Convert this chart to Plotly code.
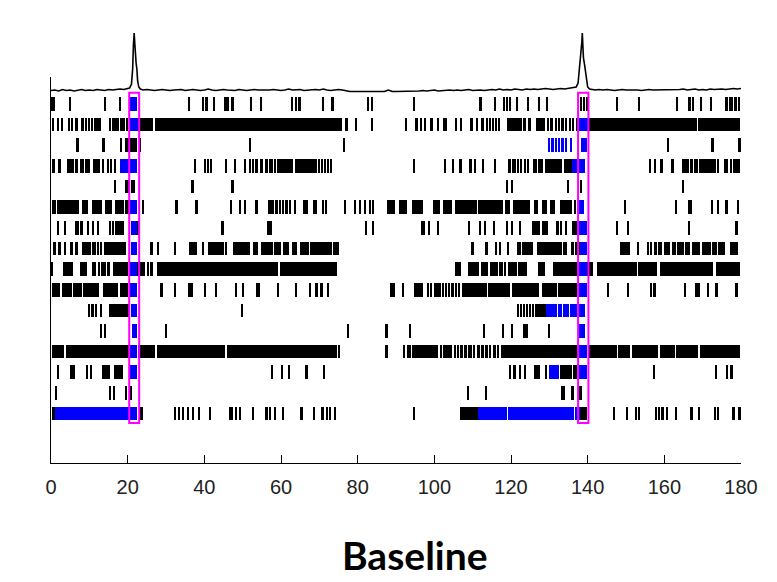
import plotly.graph_objects as go

# ---------------- data ----------------
# time axis (s)
x_ticks = [0, 20, 40, 60, 80, 100, 120, 140, 160, 180]

# population trace (arbitrary units) -- time points and values
trace_t = (list(range(0, 21)) +
           [20.5, 21.0, 21.3, 21.5, 21.7, 21.85, 22.0, 22.2, 22.4, 22.6, 22.9, 23.3] +
           list(range(24, 77)) + list(range(77, 96)) + list(range(96, 137)) +
           [137.0, 137.5, 137.9, 138.2, 138.5, 138.6, 138.75, 138.9, 139.2, 139.6, 140.0, 140.5] +
           list(range(141, 181)))
trace_v = ([2.5, 3, 2, 3.5, 2.5, 3, 2, 3, 3.5, 2.5, 3, 2.5, 3.5, 3, 2.5, 3.5, 3, 3.5, 4, 3.5, 4.5] +
           [5, 9, 24, 48, 60, 50, 38, 30, 24, 12, 6, 4] +
           [3, 3.5, 3, 2.5, 3, 3.5, 3, 2.5, 3, 3, 3.5, 2.5, 3, 3.5, 3, 2.5, 3, 4, 3, 2.5, 3, 3.5, 3,
            3, 2.5, 3.5, 3, 2.5, 3, 3.5, 3, 3, 2.5, 3, 3.5, 3, 2.5, 3, 4, 3, 3, 3.5, 2.5, 3, 3, 3.5,
            3, 4, 3, 2.5, 3, 3.5, 3] +
           [2, 1.5, 1.5, 1.5, 1.5, 1.5, 1.5, 1.5, 1.5, 1.5, 1.5, 3, 1.5, 1.5, 1.5, 1.5, 1.5, 1.5, 1.5] +
           [2, 2.5, 2, 2.5, 3, 2, 2.5, 2.5, 3, 2.5, 3, 2.5, 3, 3.5, 2.5, 3, 3, 2.5, 3, 3.5, 3, 4, 3,
            3.5, 3, 4, 3.5, 3, 4, 3.5, 4, 3.5, 4, 4.5, 4, 3.5, 4, 4.5, 4, 4.5, 5] +
           [6, 10, 25, 40, 52, 60, 48, 35, 28, 14, 6, 4] +
           [3.5, 3, 3.5, 3, 3.5, 3, 2.5, 3, 3.5, 3, 3, 3.5, 3, 2.5, 3, 3.5, 3, 3, 3.5, 3, 3.5, 3, 3,
            3.5, 4, 3, 3.5, 4, 3, 3.5, 3, 4, 3.5, 4, 4, 3.5, 4, 4.5, 4, 4.5])

# stimulation windows (s)
window_start = [20.4, 137.5]
window_end = [23.0, 140.2]

# spike rasters: a number = single spike (s), [a, b] = burst of dense spikes from a to b (s)
unit01 = [[0, 1], 5.1, 14.1, 18.0, 36.0, 39.7, 40.6, 42.5, 45.6, 46.2, 47.4, 52.2, 54.9, 62.9, 63.9,
          64.9, [70.7, 71.3], 73.5, 82.8, 83.9, 94.7, 112.1, 115.8, 118.2, 119.0, 119.9, 121.7, 124.5,
          127.3, 129.5, 138.3, 139.1, 139.8, 147.8, 153.4, 163.3, 166.6, 167.5, 169.7, 172.3, 176.3,
          177.1, 177.8, 178.6, 179.6]
unit01_blue = [[20.7, 22.4]]
unit02 = [0.6, 1.9, 3.0, 4.8, 5.6, 6.7, 8.3, 9.1, 10.0, 10.8, 11.5, 12.2, 12.9, 15.4, 16.2, 16.9, 17.6,
          18.3, 19.0, 19.9, [22.6, 26.7], [27.0, 75.8], [76.6, 77.4], 79.7, 83.9, 92.6, 95.4, 96.5, 97.6,
          99.3, 101.0, [102.3, 103.2], 105.8, 107.1, [109.3, 110.2], 111.2, 112.6, 113.8, 114.5, 115.4,
          116.2, 116.9, [118.9, 122.8], 123.6, 124.9, [126.4, 128.9], 129.7, 130.6, 131.8, 132.6, 133.5,
          134.5, 135.4, 136.3, 137.2, [140.2, 168.4], [168.8, 179.8]]
unit02_blue = [[20.3, 22.6], [137.6, 140.2]]
unit03 = [7.0, [13.5, 14.0], 18.4, [19.3, 22.4], 23.2, 51.9, 76.4, 161.1, 172.6, 179.7]
unit03_blue = [130.0, 130.9, 131.8, 132.6, 133.5, 134.4, 135.8, [138.2, 139.8]]
unit04 = [[0.3, 1.0], 2.3, 4.5, 5.1, 5.7, 6.7, 8.0, 8.4, 9.3, 10.0, [11.0, 12.8], 13.6, 15.0, 15.8, 16.7,
          37.6, 40.2, 41.0, 41.9, 45.8, 48.0, 50.6, 51.9, 52.8, 53.7, 55.0, 56.3, 57.1, 57.8, 58.5, 59.2,
          59.8, 60.4, 61.0, 61.6, 62.2, 62.8, [63.7, 69.3], 70.0, 70.8, 71.6, 72.4, 73.2,
          94.7, 102.8, 105.0, 106.9, 109.5, 110.6, 112.8, 115.8, [119.3, 120.0], 120.6, 121.2, 121.9,
          122.6, 123.7, 124.5, [125.8, 126.7], 127.3, 128.0, [128.9, 133.2], [133.7, 135.8],
          156.3, 157.6, 159.3, [161.7, 162.6], 165.0, 165.6, 166.2, [166.8, 167.4], 168.0, 168.6, 169.3,
          170.0, 170.6, 171.3, 172.0, 172.6, 173.2, 174.1, 175.8, 176.5, [177.0, 177.6], 178.2, 178.9,
          179.6]
unit04_blue = [[18.0, 22.4], [135.8, 139.3]]
unit05 = [16.7, 19.6, 20.2, [20.8, 21.9], 37.0, 47.4, 119.0, 120.4, 135.0, 138.4, 165.0]
unit05_blue = []
unit06 = [[0.2, 1.3], [1.5, 7.4], [8.0, 9.7], [10.6, 13.2], [14.1, 15.8], 17.1, 17.6, 18.2, 18.9,
          [19.3, 20.6], 24.1, 32.8, 38.0, 47.1, 49.3, 50.6, 53.7, [56.7, 58.1], 58.9, 59.8, 60.6, 61.5,
          62.4, 63.7, [65.8, 67.1], [68.4, 69.3], 71.0, 71.9, 76.7, 79.3, 80.6, 81.9, 83.2, 84.1,
          [87.6, 89.7], [90.9, 92.8], [94.1, 97.1], [99.6, 101.5], [102.3, 104.5], [105.4, 111.1],
          [111.5, 118.0], [118.4, 119.7], [120.6, 125.0], [126.0, 127.1], [128.0, 129.3], [130.2, 131.5],
          [132.8, 135.8], 136.7, 149.8, 163.2, [166.3, 167.1], 172.4, 174.1, 176.3, 179.3]
unit06_blue = [[20.6, 22.4], [137.2, 139.1]]
unit07 = [1.9, 3.7, 6.5, 7.1, 8.0, 9.7, 11.0, 12.3, 15.4, 16.3, 17.0, 17.6, 18.2, 18.9, 22.9, 44.8,
          [56.3, 57.6], 82.2, 84.1, 96.8, 97.3, 98.7, 101.0, 109.1, 111.9, 113.2, 115.6, 119.0, 120.4,
          122.4, [125.4, 127.6], [128.0, 129.7], 132.2, 133.2, 134.5, [135.8, 137.2], 147.8, 150.6, 166.5,
          178.9]
unit07_blue = [[20.9, 22.4], [137.2, 139.8]]
unit08 = [1.0, 2.3, 3.7, 5.4, 6.7, 8.4, 9.0, 9.6, 10.2, 11.0, 11.6, 12.3, 13.2, 14.1, 14.7, 15.3, 15.9,
          16.5, 17.1, 17.7, 18.3, 18.9, 19.4, 26.3, 28.0, 32.4, [36.1, 38.0], 39.7, [41.0, 45.0], 45.8,
          [47.6, 51.9], [52.8, 54.1], [54.7, 58.0], 58.6, 59.2, 59.8, [60.4, 61.5], 61.9, [62.8, 64.1],
          65.4, 66.0, 66.6, 67.2, 67.8, 68.4, 69.0, 69.6, 70.2, 70.8, 71.4, 72.0, 72.6, 73.2, 73.8, 74.4,
          75.0, 110.0, 113.7, 116.1, 117.1, 119.3, 121.9, 122.5, 123.1, 123.7, 124.3, 124.9, 125.6,
          127.1, 127.7, 128.3, 128.9, 129.5, 130.1, 130.8, 131.4, 132.0, 132.6, 133.2, 133.8, 134.4,
          136.1, [136.7, 138.0], [148.4, 151.0], 153.2, [155.4, 156.0], 156.6, [157.2, 158.0], 158.6,
          159.2, [159.8, 161.5], [161.9, 163.0], 163.6, 164.2, 164.8, [165.4, 166.7], [167.1, 169.3],
          170.2, 170.8, 171.4, 172.0, [172.5, 173.7], [174.1, 175.8], [177.1, 179.3]]
unit08_blue = [[20.8, 22.4], [138.0, 139.8]]
unit09 = [[0.2, 0.5], [3.2, 5.8], [7.6, 9.3], 11.0, 11.6, [12.2, 12.8], 13.5, 14.1, [14.7, 15.4],
          [16.1, 20.2], [22.5, 24.5], 25.4, 26.3, [27.6, 59.3], [59.7, 74.5], [105.4, 106.9],
          [108.9, 111.7], 112.4, 113.0, 113.7, [114.5, 116.7], 117.1, 117.7, 118.4, [119.3, 121.5],
          [121.9, 124.1], [127.1, 128.9], [131.0, 137.2], [139.8, 141.5], [142.4, 152.8], [153.2, 158.0],
          [158.9, 172.8], [173.5, 179.7]]
unit09_blue = [[20.6, 22.4], [137.2, 139.8]]
unit10 = [[0.2, 2.3], [2.8, 5.4], [5.8, 8.0], [8.4, 10.2], 10.6, 11.2, 11.8, 12.4, [13.5, 17.6],
          [18.0, 20.2], 28.9, 32.4, [35.8, 37.1], 40.2, 43.2, 48.4, 50.2, [53.5, 54.5], 59.3, 63.9, 67.6,
          69.3, 70.6, 72.4, [88.4, 89.7], 91.9, 95.0, 95.6, 96.2, 96.8, 98.4, 99.2, 100.2, 100.8, 101.4,
          [101.9, 102.6], 103.2, 103.8, [104.4, 105.2], 105.8, 106.4, [107.1, 113.7], [114.1, 119.7],
          [120.2, 124.1], 124.6, 125.2, 125.8, 126.4, 127.0, [128.0, 131.9], [132.3, 137.2], 145.4, 150.6,
          [156.3, 156.7], 157.5, 165.4, [168.0, 169.3], 171.5, 173.7, 178.9]
unit10_blue = [[20.6, 22.4], [137.6, 139.8]]
unit11 = [10.0, 10.9, 11.9, 13.2, 15.4, 16.0, 16.6, 17.2, 17.8, 18.4, 19.0, [19.3, 20.4], 49.8, 121.9,
          122.7, 123.5, 124.3, 125.1, 125.9, 126.7, 127.5, 128.3, 128.9]
unit11_blue = [[20.8, 22.4], 129.4, 130.0, 130.6, 131.2, 131.9, [132.3, 133.3], [133.6, 135.2],
               [135.5, 137.2], [137.6, 139.3]]
unit12 = [13.2, 14.1, 30.0, 77.6, 87.6, 93.8, 113.0, 118.0, 120.4, 123.4, 124.1, 130.0]
unit12_blue = [[21.0, 22.5], [137.6, 139.3]]
unit13 = [[0.2, 3.4], [3.9, 20.4], [22.8, 27.1], [27.6, 45.4], [45.8, 74.5], 75.2, 87.6, 92.1, 93.2,
          93.8, 94.4, 95.0, 95.6, 96.2, 96.7, 97.1, 97.7, 98.3, 98.9, 99.5, 100.1, 100.7, 101.9, 102.5,
          103.1, 103.7, 104.3, [105.0, 105.6], 106.2, [106.8, 107.6], 108.2, [108.8, 109.8], 110.4,
          [111.0, 112.0], 112.6, [113.2, 114.0], 114.6, [115.2, 116.0], 116.6, [117.4, 137.2],
          [140.2, 147.6], [148.0, 151.0], [151.5, 158.4], [158.9, 162.8], [163.1, 168.9], [169.3, 179.7]]
unit13_blue = [[20.6, 22.5], [137.2, 139.8]]
unit14 = [1.9, [5.0, 6.3], [9.3, 9.7], 10.4, [13.2, 15.4], [16.4, 18.7], 57.8, 60.4, 62.2, [66.3, 67.1],
          71.2, 119.9, 121.0, 122.4, 123.7, [126.0, 127.6], 129.1, [132.8, 135.8], [136.3, 137.2], 157.3,
          173.5, 176.4, 177.6]
unit14_blue = [[20.6, 22.5], [130.0, 132.4], [137.6, 139.8]]
unit15 = [1.3, 15.4, 16.4, 19.6, 20.8, 108.9, 113.5, [133.0, 134.1], 136.1, 138.2]
unit15_blue = []
unit16 = [[0.2, 1.0], 23.7, 32.4, 33.5, 34.5, 35.8, 37.1, 38.7, 41.5, [46.5, 47.6], 48.4, 49.3, 52.8,
          56.3, 57.1, 58.4, 60.6, [65.0, 65.8], 68.6, 70.9, 72.1, 72.8, 74.1, 94.7, [106.7, 111.5],
          [138.0, 139.8], 146.9, 150.4, 152.6, 153.5, 157.8, 158.7, 159.6, 160.8, 163.1, [166.7, 167.6],
          169.1, 173.2, 174.1, [177.6, 178.5], 179.7]
unit16_blue = [[1.0, 22.5], [111.5, 118.9], [119.2, 136.5], [136.8, 138.0]]

black_rows = [unit01, unit02, unit03, unit04, unit05, unit06, unit07, unit08,
              unit09, unit10, unit11, unit12, unit13, unit14, unit15, unit16]
blue_rows = [unit01_blue, unit02_blue, unit03_blue, unit04_blue, unit05_blue, unit06_blue,
             unit07_blue, unit08_blue, unit09_blue, unit10_blue, unit11_blue, unit12_blue,
             unit13_blue, unit14_blue, unit15_blue, unit16_blue]

# ---------------- style ----------------
TICK_W = 0.45      # width of a single spike mark (s)
ROW_H = 0.66       # height of a raster row mark (row units)
N = len(black_rows)


def segments(rows):
    base, width, ys = [], [], []
    for i, row in enumerate(rows):
        yv = N - i
        for it in row:
            if isinstance(it, (list, tuple)):
                a, b = it
            else:
                a, b = it - TICK_W / 2, it + TICK_W / 2
            base.append(a)
            width.append(b - a)
            ys.append(yv)
    return base, width, ys


fig = go.Figure()
for rows, col in [(black_rows, "black"), (blue_rows, "#0000ff")]:
    b, w, ys = segments(rows)
    fig.add_trace(go.Bar(orientation="h", base=b, x=w, y=ys, width=ROW_H,
                         marker=dict(color=col, line=dict(width=0)),
                         xaxis="x", yaxis="y", showlegend=False, hoverinfo="skip"))

fig.add_trace(go.Scatter(x=trace_t, y=trace_v, mode="lines",
                         line=dict(color="black", width=1.6),
                         xaxis="x", yaxis="y2", showlegend=False, hoverinfo="skip"))

for a, b in zip(window_start, window_end):
    fig.add_shape(type="rect", xref="x", yref="y", x0=a, x1=b, y0=0.54, y1=N + 0.54,
                  line=dict(color="#ff00ff", width=2), fillcolor="rgba(0,0,0,0)", layer="above")

# the page body has an 8px default margin, so the figure is 8px smaller than the window
fig.update_layout(
    width=769, height=574,
    margin=dict(l=43, r=36, t=20, b=119),
    paper_bgcolor="white", plot_bgcolor="white",
    barmode="overlay", bargap=0,
    xaxis=dict(range=[0, 180], tickvals=x_ticks, ticks="inside", ticklen=8, tickwidth=1,
               tickcolor="black", showline=True, linecolor="black", linewidth=1.2,
               showgrid=False, zeroline=False, anchor="y",
               tickfont=dict(family="Liberation Sans Narrow, Liberation Sans, Arial, sans-serif",
                             size=20, color="#222"),
               ticklabelstandoff=6),
    yaxis=dict(domain=[0, 0.8874], range=[-1.4, 17.31], showline=True, linecolor="black",
               linewidth=1.2, showticklabels=False, ticks="", showgrid=False, zeroline=False),
    yaxis2=dict(domain=[0.8506, 1], range=[0, 65], visible=False, anchor="x"),
    annotations=[dict(text="<b>Baseline</b>", xref="paper", yref="paper", x=0.5275, y=-0.2115,
                      xanchor="center", yanchor="middle", showarrow=False,
                      font=dict(family="Lato, Open Sans, sans-serif", size=39, color="black"))],
)

fig.write_html("out.html")
